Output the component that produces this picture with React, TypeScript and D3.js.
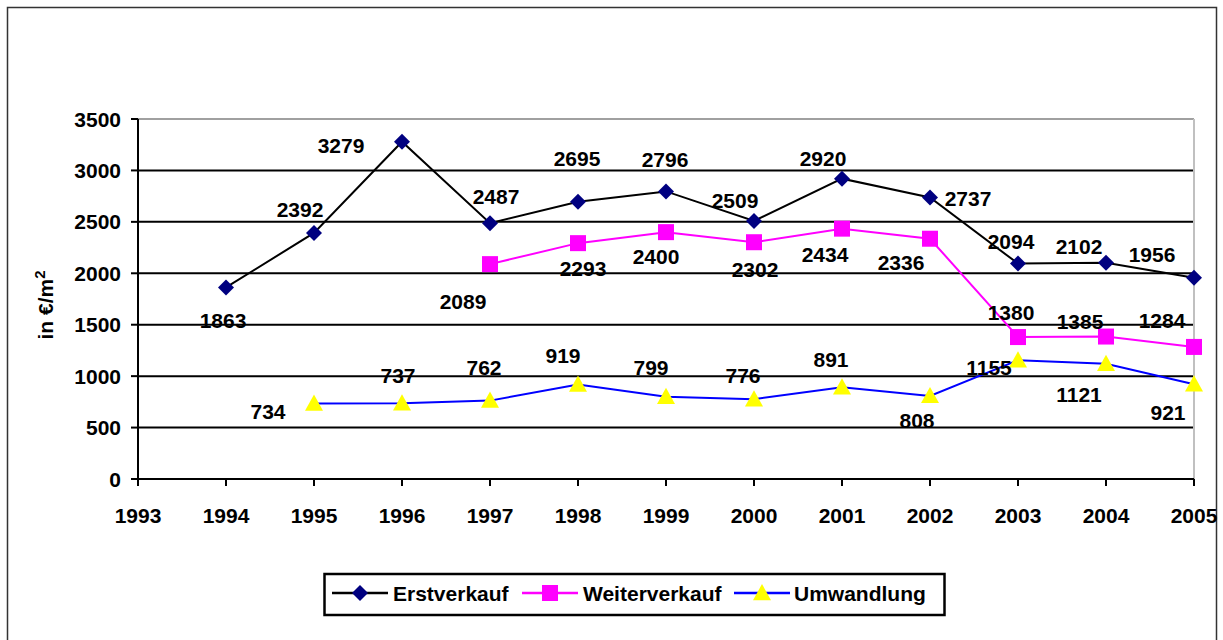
import React from "react";
import * as d3 from "d3";

const years = [1993, 1994, 1995, 1996, 1997, 1998, 1999, 2000, 2001, 2002, 2003, 2004, 2005];
const yTicks = [0, 500, 1000, 1500, 2000, 2500, 3000, 3500];

const erstYears = [1994, 1995, 1996, 1997, 1998, 1999, 2000, 2001, 2002, 2003, 2004, 2005];
const erstValues = [1863, 2392, 3279, 2487, 2695, 2796, 2509, 2920, 2737, 2094, 2102, 1956];

const weiterYears = [1997, 1998, 1999, 2000, 2001, 2002, 2003, 2004, 2005];
const weiterValues = [2089, 2293, 2400, 2302, 2434, 2336, 1380, 1385, 1284];

const umwYears = [1995, 1996, 1997, 1998, 1999, 2000, 2001, 2002, 2003, 2004, 2005];
const umwValues = [734, 737, 762, 919, 799, 776, 891, 808, 1155, 1121, 921];

// label offsets (layout only)
const erstLabelOff = [[-3, 33], [-14, -24], [-61, 4], [6, -27], [-1, -43], [-1, -32], [-19, -20], [-19, -20], [38, 1], [-7, -22], [-27, -16], [-42, -23]];
const weiterLabelOff = [[-27, 37], [5, 25], [-10, 24], [1, 27], [-17, 26], [-29, 24], [-7, -25], [-26, -15], [-32, -26]];
const umwLabelOff = [[-46, 8], [-4, -28], [-6, -33], [-15, -29], [-15, -29], [-11, -24], [-11, -28], [-13, 25], [-29, 7], [-27, 31], [-26, 28]];

const W = 1223, H = 640;
const L = 138, R = 1194, T = 119, B = 479;

const x = d3.scaleLinear().domain([1993, 2005]).range([L, R]);
const y = d3.scaleLinear().domain([0, 3500]).range([B, T]);

const font = "'Liberation Sans', Arial, sans-serif";
const FS = 21;

function Diamond({ cx, cy, s = 8 }: any) {
  return <path d={`M${cx},${cy - s}L${cx + s},${cy}L${cx},${cy + s}L${cx - s},${cy}Z`} fill="#000080" />;
}
function Square({ cx, cy, s = 8 }: any) {
  return <rect x={cx - s} y={cy - s} width={2 * s} height={2 * s} fill="#FF00FF" />;
}
function Tri({ cx, cy, s = 9 }: any) {
  return <path d={`M${cx},${cy - s}L${cx + s},${cy + s * 0.8}L${cx - s},${cy + s * 0.8}Z`} fill="#FFFF00" />;
}

type Series = { name: string; ys: number[]; vs: number[]; off: number[][]; line: string; marker: any };

const series: Series[] = [
  { name: "Erstverkauf", ys: erstYears, vs: erstValues, off: erstLabelOff, line: "#000000", marker: Diamond },
  { name: "Weiterverkauf", ys: weiterYears, vs: weiterValues, off: weiterLabelOff, line: "#FF00FF", marker: Square },
  { name: "Umwandlung", ys: umwYears, vs: umwValues, off: umwLabelOff, line: "#0000FF", marker: Tri },
];

export default function App() {
  const lineGen = d3.line<[number, number]>().x(d => x(d[0])).y(d => y(d[1]));
  const legendItems = [
    { x: 332, textX: 393 },
    { x: 522, textX: 583 },
    { x: 734, textX: 794 },
  ];
  return (
    <svg width={W} height={H} style={{ position: "absolute", left: 0, top: 0, background: "#fff" }} fontFamily={font}>
      <rect x={7.5} y={7.5} width={1209} height={660} fill="#fff" stroke="#333" strokeWidth={1.5} />
      {yTicks.filter(t => t > 0 && t < 3500).map(t => (
        <line key={t} x1={L} x2={R} y1={y(t)} y2={y(t)} stroke="#000" strokeWidth={2} />
      ))}
      <line x1={L} x2={R} y1={y(3500)} y2={y(3500)} stroke="#a0a0a0" strokeWidth={2} />
      <line x1={R} x2={R} y1={T} y2={B} stroke="#c0c0c0" strokeWidth={2} />
      <line x1={L} x2={L} y1={T} y2={B + 1} stroke="#000" strokeWidth={2} />
      <line x1={L} x2={R} y1={B} y2={B} stroke="#000" strokeWidth={2} />
      {yTicks.map(t => (
        <g key={t}>
          <line x1={L - 7} x2={L} y1={y(t)} y2={y(t)} stroke="#000" strokeWidth={2} />
          <text x={L - 17} y={y(t)} dy="0.36em" textAnchor="end" fontSize={FS} fontWeight="bold">{t}</text>
        </g>
      ))}
      {years.map(yr => (
        <g key={yr}>
          <line x1={x(yr)} x2={x(yr)} y1={B} y2={B + 7} stroke="#000" strokeWidth={2} />
          <text x={x(yr)} y={B + 44} textAnchor="middle" fontSize={FS} fontWeight="bold">{yr}</text>
        </g>
      ))}
      <text transform={`translate(53,305) rotate(-90)`} textAnchor="middle" fontSize={FS} fontWeight="bold">
        in €/m<tspan fontSize={15} dy={-8}>2</tspan>
      </text>
      {series.map(s => {
        const pts: [number, number][] = s.ys.map((yr, i) => [yr, s.vs[i]]);
        const M = s.marker;
        return (
          <g key={s.name}>
            <path d={lineGen(pts) || ""} fill="none" stroke={s.line} strokeWidth={2} />
            {pts.map((p, i) => <M key={i} cx={x(p[0])} cy={y(p[1])} />)}
            {pts.map((p, i) => (
              <text key={"l" + i} x={x(p[0]) + s.off[i][0]} y={y(p[1]) + s.off[i][1]} dy="0.36em" textAnchor="middle" fontSize={FS} fontWeight="bold">{p[1]}</text>
            ))}
          </g>
        );
      })}
      <rect x={324.5} y={574} width={620} height={41} fill="#fff" stroke="#000" strokeWidth={2.5} />
      {series.map((s, i) => {
        const M = s.marker;
        const li = legendItems[i];
        return (
          <g key={s.name}>
            <line x1={li.x} x2={li.x + 56} y1={593} y2={593} stroke={s.line} strokeWidth={2.5} />
            <M cx={li.x + 28} cy={593} />
            <text x={li.textX} y={593} dy="0.36em" fontSize={FS} fontWeight="bold">{s.name}</text>
          </g>
        );
      })}
    </svg>
  );
}
